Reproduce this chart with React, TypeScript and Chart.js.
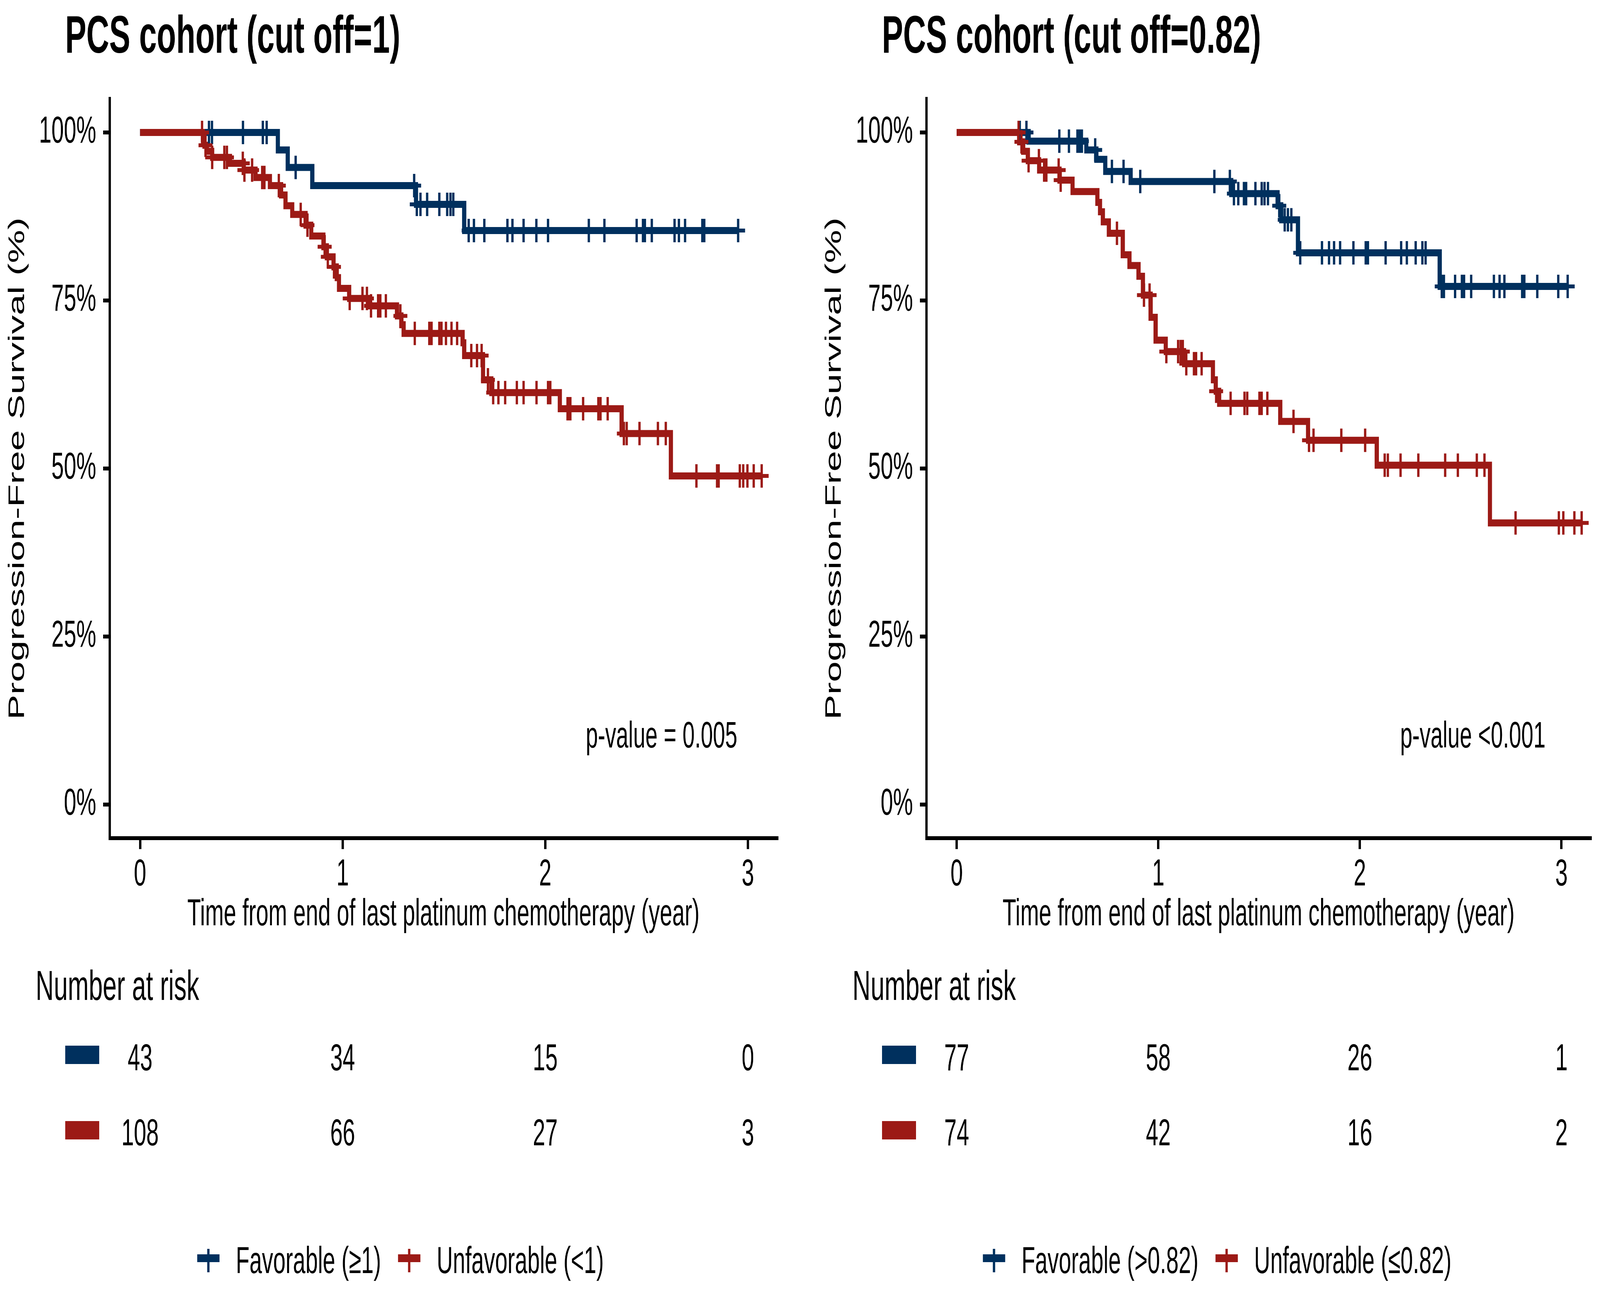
import React, { useEffect, useRef } from 'react';
import { Chart, registerables } from 'chart.js';

Chart.register(...registerables);

// ---------------- data ----------------
const TIME_TICKS = [0, 1, 2, 3];
const SURV_TICKS = [0, 25, 50, 75, 100];
const RISK_TIMES = [0, 1, 2, 3];

// Panel 1: cut off = 1
const P1_TITLE = 'PCS cohort (cut off=1)';
const P1_PVALUE = 'p-value = 0.005';
const P1_LABELS = ['Favorable (\u22651)', 'Unfavorable (<1)'];
const P1_FAV_EVENT_T = [0.68, 0.729, 0.85, 1.362, 1.6];
const P1_FAV_EVENT_S = [97.4, 94.8, 92.1, 89.3, 85.4];
const P1_FAV_CENSOR_T = [0.34, 0.355, 0.508, 0.606, 0.625, 0.768, 1.353, 1.366, 1.384, 1.417, 1.477, 1.516, 1.532, 1.546, 1.622, 1.648, 1.699, 1.813, 1.838, 1.893, 1.956, 2.014, 2.215, 2.292, 2.451, 2.482, 2.492, 2.526, 2.638, 2.66, 2.69, 2.775, 2.785, 2.952];
const P1_UNF_EVENT_T = [0.31, 0.318, 0.33, 0.356, 0.444, 0.512, 0.57, 0.641, 0.696, 0.718, 0.751, 0.817, 0.845, 0.905, 0.922, 0.955, 0.971, 0.982, 1.032, 1.136, 1.268, 1.29, 1.301, 1.592, 1.6, 1.693, 1.734, 2.072, 2.377, 2.62];
const P1_UNF_EVENT_S = [99.1, 98.1, 97.2, 96.3, 95.4, 94.4, 93.3, 92.1, 90.7, 89.1, 87.8, 86.2, 84.6, 83.0, 81.5, 80.0, 78.4, 76.8, 75.3, 74.2, 72.7, 71.4, 70.1, 68.7, 66.8, 63.2, 61.3, 58.9, 55.2, 48.9];
const P1_UNF_CENSOR_T = [0.306, 0.323, 0.356, 0.416, 0.429, 0.507, 0.515, 0.553, 0.603, 0.614, 0.685, 0.793, 0.826, 0.911, 0.927, 0.957, 1.035, 1.098, 1.12, 1.14, 1.175, 1.186, 1.213, 1.285, 1.356, 1.428, 1.439, 1.477, 1.488, 1.51, 1.537, 1.565, 1.635, 1.663, 1.686, 1.717, 1.743, 1.769, 1.802, 1.86, 1.893, 1.957, 2.014, 2.025, 2.11, 2.118, 2.124, 2.187, 2.262, 2.273, 2.308, 2.388, 2.402, 2.465, 2.556, 2.595, 2.746, 2.848, 2.856, 2.96, 2.977, 2.998, 3.029, 3.068];
const P1_RISK_FAV = [43, 34, 15, 0];
const P1_RISK_UNF = [108, 66, 27, 3];

// Panel 2: cut off = 0.82
const P2_TITLE = 'PCS cohort (cut off=0.82)';
const P2_PVALUE = 'p-value <0.001';
const P2_LABELS = ['Favorable (>0.82)', 'Unfavorable (\u22640.82)'];
const P2_FAV_EVENT_T = [0.357, 0.643, 0.693, 0.737, 0.863, 1.362, 1.592, 1.61, 1.693, 2.396];
const P2_FAV_EVENT_S = [98.7, 97.4, 96.0, 94.2, 92.7, 90.9, 89.1, 87.0, 82.1, 77.1];
const P2_FAV_CENSOR_T = [0.313, 0.346, 0.509, 0.557, 0.599, 0.61, 0.621, 0.687, 0.77, 0.828, 0.911, 1.278, 1.355, 1.375, 1.397, 1.425, 1.436, 1.482, 1.513, 1.527, 1.544, 1.6, 1.627, 1.643, 1.66, 1.704, 1.812, 1.847, 1.872, 1.902, 1.968, 2.029, 2.04, 2.128, 2.205, 2.233, 2.277, 2.31, 2.326, 2.406, 2.417, 2.472, 2.506, 2.517, 2.552, 2.665, 2.693, 2.717, 2.805, 2.816, 2.88, 2.984, 3.031];
const P2_UNF_EVENT_T = [0.31, 0.33, 0.353, 0.409, 0.51, 0.575, 0.698, 0.711, 0.725, 0.755, 0.824, 0.857, 0.902, 0.924, 0.962, 0.987, 1.037, 1.128, 1.271, 1.285, 1.302, 1.605, 1.743, 2.084, 2.645];
const P2_UNF_EVENT_S = [98.6, 97.2, 95.8, 94.4, 92.9, 91.2, 89.6, 88.2, 86.7, 85.0, 81.8, 80.2, 78.6, 75.8, 72.5, 69.1, 67.4, 65.6, 63.2, 61.5, 59.7, 57.0, 54.2, 50.5, 41.9];
const P2_UNF_CENSOR_T = [0.307, 0.321, 0.357, 0.408, 0.434, 0.445, 0.506, 0.516, 0.795, 0.929, 0.957, 1.04, 1.098, 1.111, 1.122, 1.139, 1.177, 1.188, 1.215, 1.287, 1.359, 1.428, 1.441, 1.502, 1.513, 1.541, 1.671, 1.748, 1.77, 1.908, 2.026, 2.123, 2.139, 2.202, 2.29, 2.423, 2.486, 2.58, 2.618, 2.772, 2.987, 3.009, 3.064, 3.1];
const P2_RISK_FAV = [77, 58, 26, 1];
const P2_RISK_UNF = [74, 42, 16, 2];

const X_TITLE = 'Time from end of last platinum chemotherapy (year)';
const Y_TITLE = 'Progression-Free Survival (%)';
const RISK_TITLE = 'Number at risk';

// ---------------- style ----------------
const FONT = "'Liberation Sans', Arial, Helvetica, sans-serif";
const BLUE = '#00305E';
const RED = '#9C1A16';
const PAGE_W = 6873;
const PAGE_H = 3309;
const PANEL_SHIFT = 3508;

type PanelCfg = {
  title: string;
  pvalue: string;
  labels: string[];
  favT: number[];
  favS: number[];
  favC: number[];
  unfT: number[];
  unfS: number[];
  unfC: number[];
  riskFav: number[];
  riskUnf: number[];
};

const PANELS: PanelCfg[] = [
  { title: P1_TITLE, pvalue: P1_PVALUE, labels: P1_LABELS, favT: P1_FAV_EVENT_T, favS: P1_FAV_EVENT_S, favC: P1_FAV_CENSOR_T, unfT: P1_UNF_EVENT_T, unfS: P1_UNF_EVENT_S, unfC: P1_UNF_CENSOR_T, riskFav: P1_RISK_FAV, riskUnf: P1_RISK_UNF },
  { title: P2_TITLE, pvalue: P2_PVALUE, labels: P2_LABELS, favT: P2_FAV_EVENT_T, favS: P2_FAV_EVENT_S, favC: P2_FAV_CENSOR_T, unfT: P2_UNF_EVENT_T, unfS: P2_UNF_EVENT_S, unfC: P2_UNF_CENSOR_T, riskFav: P2_RISK_FAV, riskUnf: P2_RISK_UNF },
];

function stepValue(times: number[], surv: number[], t: number): number {
  let v = 100;
  for (let i = 0; i < times.length; i++) {
    if (times[i] <= t) v = surv[i];
  }
  return v;
}

function stepPoints(times: number[], surv: number[], cens: number[]) {
  const end = Math.max(...cens, ...times);
  const pts = [{ x: 0, y: 100 }];
  times.forEach((t, i) => pts.push({ x: t, y: surv[i] }));
  pts.push({ x: end, y: surv[surv.length - 1] });
  return pts;
}

function censorPoints(times: number[], surv: number[], cens: number[]) {
  return cens.map((t) => ({ x: t, y: stepValue(times, surv, t) }));
}

function Panel({ cfg, left, width, sx, sy }: { cfg: PanelCfg; left: number; width: number; sx: number; sy: number }) {
  const ref = useRef<HTMLCanvasElement>(null);

  useEffect(() => {
    const canvas = ref.current;
    if (!canvas) return;

    const extras = {
      id: 'kmExtras',
      afterDraw(chart: any) {
        const ctx = chart.ctx as CanvasRenderingContext2D;
        const xs = chart.scales.x;
        const ys = chart.scales.y;
        ctx.save();
        ctx.fillStyle = '#000';
        // title
        ctx.font = `bold 136px ${FONT}`;
        ctx.textAlign = 'left';
        ctx.textBaseline = 'alphabetic';
        ctx.fillText(cfg.title, 280, 135);
        // p-value
        ctx.font = `94px ${FONT}`;
        ctx.textBaseline = 'middle';
        ctx.fillText(cfg.pvalue, xs.getPixelForValue(2.2), ys.getPixelForValue(10));
        // risk table
        ctx.textBaseline = 'alphabetic';
        ctx.font = `108px ${FONT}`;
        ctx.fillText(RISK_TITLE, 153, 2559);
        const rows = [
          { vals: cfg.riskFav, color: BLUE, top: 2676, base: 2739 },
          { vals: cfg.riskUnf, color: RED, top: 2869, base: 2931 },
        ];
        rows.forEach((r) => {
          ctx.fillStyle = r.color;
          ctx.fillRect(280, r.top, 146, 47);
          ctx.fillStyle = '#000';
          ctx.font = `96px ${FONT}`;
          ctx.textAlign = 'center';
          r.vals.forEach((v, i) => {
            ctx.fillText(String(v), xs.getPixelForValue(RISK_TIMES[i]), r.base);
          });
          ctx.textAlign = 'left';
        });
        // legend
        ctx.font = `96px ${FONT}`;
        const keyW = 96;
        const gapKT = 70;
        const gapTK = 73;
        const w0 = ctx.measureText(cfg.labels[0]).width;
        const w1 = ctx.measureText(cfg.labels[1]).width;
        const total = keyW + gapKT + w0 + gapTK + keyW + gapKT + w1;
        let lx = 1720 - total / 2;
        const colors = [BLUE, RED];
        cfg.labels.forEach((lab, i) => {
          ctx.fillStyle = colors[i];
          ctx.fillRect(lx, 3210, keyW, 20);
          ctx.fillRect(lx + keyW / 2 - 5, 3196, 10, 60);
          ctx.fillStyle = '#000';
          ctx.textBaseline = 'alphabetic';
          ctx.fillText(lab, lx + keyW + gapKT, 3258);
          lx += keyW + gapKT + (i === 0 ? w0 : w1) + gapTK;
        });
        ctx.restore();
      },
    };

    const tickFont = { family: FONT, size: 96, lineHeight: 1.2 };

    const chart = new Chart(canvas, {
      type: 'scatter',
      data: {
        datasets: [
          { label: cfg.labels[1] + ' censored', data: censorPoints(cfg.unfT, cfg.unfS, cfg.unfC), showLine: false, pointStyle: 'cross', pointRadius: 30, pointHoverRadius: 30, pointBorderWidth: 10, pointBorderColor: RED, pointBackgroundColor: RED, order: 0 },
          { label: cfg.labels[0] + ' censored', data: censorPoints(cfg.favT, cfg.favS, cfg.favC), showLine: false, pointStyle: 'cross', pointRadius: 30, pointHoverRadius: 30, pointBorderWidth: 10, pointBorderColor: BLUE, pointBackgroundColor: BLUE, order: 1 },
          { label: cfg.labels[1], data: stepPoints(cfg.unfT, cfg.unfS, cfg.unfC), showLine: true, stepped: 'before', borderColor: RED, borderWidth: 18, borderCapStyle: 'butt', borderJoinStyle: 'miter', pointRadius: 0, pointHoverRadius: 0, order: 2 },
          { label: cfg.labels[0], data: stepPoints(cfg.favT, cfg.favS, cfg.favC), showLine: true, stepped: 'before', borderColor: BLUE, borderWidth: 18, borderCapStyle: 'butt', borderJoinStyle: 'miter', pointRadius: 0, pointHoverRadius: 0, order: 3 },
        ] as any,
      },
      options: {
        responsive: false,
        animation: false,
        devicePixelRatio: 1,
        events: [],
        layout: { padding: { left: 19.4, top: 253, right: width - 3338, bottom: PAGE_H - 2399.6 } },
        plugins: { legend: { display: false }, tooltip: { enabled: false }, title: { display: false } },
        scales: {
          x: {
            type: 'linear', min: -0.15, max: 3.145,
            afterBuildTicks: (s: any) => { s.ticks = TIME_TICKS.map((v) => ({ value: v })); },
            afterFit: (s: any) => { s.height = 254.6; },
            ticks: { font: tickFont, color: '#000', padding: 9, maxRotation: 0, callback: (v: any) => String(v) },
            grid: { display: true, drawOnChartArea: false, drawTicks: true, tickLength: 28, tickWidth: 10, tickColor: '#000', color: '#000', lineWidth: 10 },
            border: { display: true, color: '#000', width: 10 },
            title: { display: true, text: X_TITLE, font: tickFont, color: '#000', padding: 0 },
          },
          y: {
            type: 'linear', min: -5, max: 105,
            afterBuildTicks: (s: any) => { s.ticks = SURV_TICKS.map((v) => ({ value: v })); },
            afterFit: (s: any) => { s.width = 451.6; },
            ticks: { font: tickFont, color: '#000', padding: 30, callback: (v: any) => `${v}%` },
            grid: { display: true, drawOnChartArea: false, drawTicks: true, tickLength: 28, tickWidth: 10, tickColor: '#000', color: '#000', lineWidth: 10 },
            border: { display: true, color: '#000', width: 10 },
            title: { display: true, text: Y_TITLE, font: tickFont, color: '#000', padding: 0 },
          },
        },
      } as any,
      plugins: [extras],
    });

    return () => chart.destroy();
  }, [cfg, width]);

  // The canvas keeps its full-resolution bitmap; its displayed size follows the real viewport.
  return (
    <canvas
      ref={ref}
      width={width}
      height={PAGE_H}
      style={{ position: 'absolute', left: left * sx, top: 0, width: width * sx, height: PAGE_H * sy, display: 'block' }}
    />
  );
}

export default function App() {
  const vw = typeof window !== 'undefined' ? window.innerWidth : PAGE_W;
  const vh = typeof window !== 'undefined' ? window.innerHeight : PAGE_H;
  const sx = Math.min(1, vw / PAGE_W);
  const sy = Math.min(1, vh / PAGE_H);
  useEffect(() => {
    document.body.style.margin = '0';
    document.body.style.overflow = 'hidden';
    document.documentElement.style.overflow = 'hidden';
  }, []);
  return (
    <div style={{ position: 'absolute', left: 0, top: 0, width: PAGE_W * sx, height: PAGE_H * sy, overflow: 'hidden', background: '#ffffff' }}>
      <Panel cfg={PANELS[0]} left={0} width={PANEL_SHIFT} sx={sx} sy={sy} />
      <Panel cfg={PANELS[1]} left={PANEL_SHIFT} width={PAGE_W - PANEL_SHIFT} sx={sx} sy={sy} />
    </div>
  );
}
